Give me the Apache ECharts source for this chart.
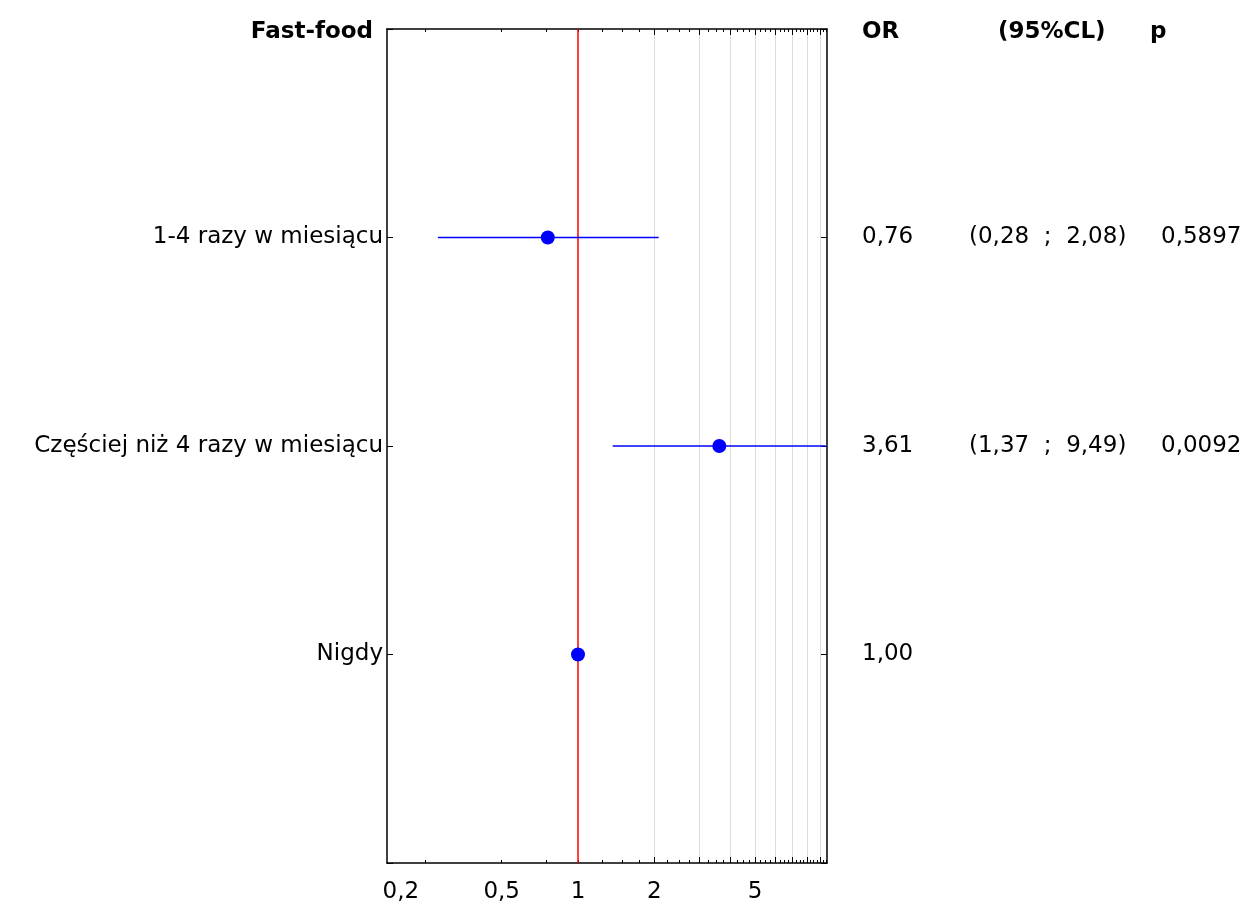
<!DOCTYPE html>
<html>
<head>
<meta charset="utf-8">
<script src="https://cdn.jsdelivr.net/npm/echarts@6/dist/echarts.min.js"></script>
<style>
html,body{margin:0;padding:0;background:#fff;}
#chart{width:1245px;height:904px;}
</style>
</head>
<body>
<div id="chart"></div>
<script>
// ---- data ----
var title = 'Fast-food';
var categories = ['1-4 razy w miesiącu', 'Częściej niż 4 razy w miesiącu', 'Nigdy'];
var orValues = [0.76, 3.61, 1.00];
var ciLow = [0.28, 1.37, null];
var ciHigh = [2.08, 9.49, null];
var orText = ['0,76', '3,61', '1,00'];
var ciText = ['(0,28  ;  2,08)', '(1,37  ;  9,49)', ''];
var pText = ['0,5897', '0,0092', ''];
var headers = ['OR', '(95%CL)', 'p'];
var xLabelValues = [0.2, 0.5, 1, 2, 5];
var xMajorTicks = [2, 3, 4, 5, 6, 7, 8, 9];
var xMinorTicks = [0.25, 0.5, 0.75, 1, 1.25, 1.5, 1.75, 2.25, 2.5, 2.75, 3.25, 3.5, 3.75,
  4.25, 4.5, 4.75, 5.25, 5.5, 5.75, 6.25, 6.5, 6.75, 7.25, 7.5, 7.75, 8.25, 8.5, 8.75, 9.25, 9.5];
var xMin = 0.1764, xMax = 9.6;
var refValue = 1;

var FONT = 'DejaVu Sans';
var FS = 23;

var pointData = orValues.map(function (v, i) { return [v, i + 1]; });
var ciData = [];
ciLow.forEach(function (lo, i) { if (lo != null) ciData.push([lo, ciHigh[i], i + 1]); });

function xAxisBase(pos) {
  return {
    type: 'log', logBase: 10, min: xMin, max: xMax, position: pos,
    axisLine: { show: false, onZero: false }, axisTick: { show: false }, axisLabel: { show: false },
    splitLine: { show: false }, minorTick: { show: false }, minorSplitLine: { show: false }
  };
}
var xa0 = xAxisBase('bottom');
xa0.axisLine = { show: true, onZero: false, lineStyle: { color: '#000', width: 1.5 } };
xa0.axisTick = { show: true, inside: true, length: 3, customValues: xMinorTicks, lineStyle: { color: '#000', width: 1 } };
xa0.axisLabel = { show: true, customValues: xLabelValues, margin: 18, color: '#000', fontFamily: FONT, fontSize: FS,
  formatter: function (v) { return String(v).replace('.', ','); } };
var xa1 = xAxisBase('bottom');
xa1.axisTick = { show: true, inside: true, length: 6, customValues: xMajorTicks, lineStyle: { color: '#000', width: 1 } };
xa1.splitLine = { show: true, lineStyle: { color: '#dcdcdc', width: 1 } };
var xa2 = xAxisBase('top');
xa2.axisLine = { show: true, onZero: false, lineStyle: { color: '#000', width: 1.5 } };
xa2.axisTick = { show: true, inside: true, length: 3, customValues: xMinorTicks, lineStyle: { color: '#000', width: 1 } };
var xa3 = xAxisBase('top');
xa3.axisTick = { show: true, inside: true, length: 6, customValues: xMajorTicks, lineStyle: { color: '#000', width: 1 } };

var option = {
  animation: false,
  backgroundColor: '#fff',
  grid: { left: 387, right: 418, top: 29, bottom: 40, containLabel: false },
  xAxis: [xa0, xa1, xa2, xa3],
  yAxis: [
    {
      type: 'value', min: 0, max: 4, interval: 1, inverse: true, position: 'left',
      name: title, nameLocation: 'start', nameGap: -3,
      nameTextStyle: { fontFamily: FONT, fontSize: FS, fontWeight: 'bold', color: '#000',
        align: 'right', verticalAlign: 'middle', padding: [0, 14, 0, 0] },
      axisLine: { show: true, onZero: false, lineStyle: { color: '#000', width: 1.5 } },
      axisTick: { show: true, inside: true, length: 6, lineStyle: { color: '#000', width: 1 } },
      axisLabel: { margin: 4, color: '#000', fontFamily: FONT, fontSize: FS,
        formatter: function (v) { return categories[v - 1] || ''; } },
      splitLine: { show: false }
    },
    {
      type: 'value', min: 0, max: 4, interval: 1, inverse: true, position: 'right',
      name: '{a|' + headers[0] + '}{b|' + headers[1] + '}{c|' + headers[2] + '}',
      nameLocation: 'start', nameGap: -3,
      nameTextStyle: { fontFamily: FONT, fontSize: FS, fontWeight: 'bold', color: '#000',
        align: 'left', verticalAlign: 'middle', padding: [0, 0, 0, 35],
        rich: {
          a: { width: 136, fontFamily: FONT, fontSize: FS, fontWeight: 'bold', color: '#000' },
          b: { width: 152, fontFamily: FONT, fontSize: FS, fontWeight: 'bold', color: '#000' },
          c: { fontFamily: FONT, fontSize: FS, fontWeight: 'bold', color: '#000' }
        } },
      axisLine: { show: true, onZero: false, lineStyle: { color: '#000', width: 1.5 } },
      axisTick: { show: true, inside: true, length: 6, lineStyle: { color: '#000', width: 1 } },
      axisLabel: { margin: 35, color: '#000', fontFamily: FONT, fontSize: FS,
        formatter: function (v) {
          var i = v - 1;
          if (i < 0 || i >= categories.length) return '';
          return '{a|' + orText[i] + '}{b|' + ciText[i] + '}{c|' + pText[i] + '}';
        },
        rich: {
          a: { width: 107, fontFamily: FONT, fontSize: FS, color: '#000' },
          b: { width: 192, fontFamily: FONT, fontSize: FS, color: '#000' },
          c: { fontFamily: FONT, fontSize: FS, color: '#000' }
        } },
      splitLine: { show: false }
    }
  ],
  series: [
    {
      type: 'custom', xAxisIndex: 0, yAxisIndex: 0, data: ciData, encode: { x: [0, 1], y: 2 },
      renderItem: function (params, api) {
        var p1 = api.coord([api.value(0), api.value(2)]);
        var p2 = api.coord([api.value(1), api.value(2)]);
        return { type: 'line', shape: { x1: p1[0], y1: p1[1], x2: p2[0], y2: p2[1] },
          style: { stroke: '#0000ff', lineWidth: 1.5 } };
      },
      z: 3
    },
    {
      type: 'scatter', xAxisIndex: 0, yAxisIndex: 0, data: pointData,
      symbol: 'circle', symbolSize: 14, itemStyle: { color: '#0000ff', opacity: 1 }, z: 5,
      markLine: {
        silent: true, symbol: ['none', 'none'], label: { show: false },
        lineStyle: { color: '#ff0000', width: 1.5, type: 'solid', opacity: 1 },
        data: [{ xAxis: refValue }], z: 2
      }
    }
  ]
};
var chart = echarts.init(document.getElementById('chart'));
chart.setOption(option);
</script>
</body>
</html>
